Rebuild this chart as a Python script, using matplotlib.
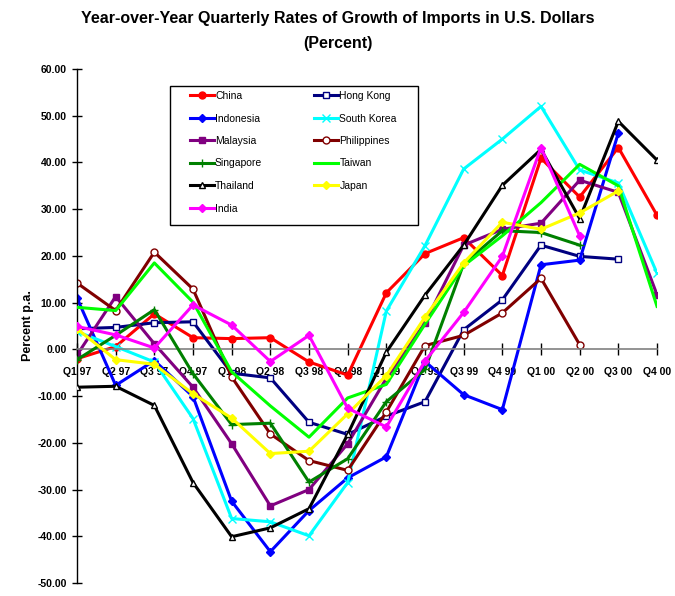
import numpy as np
import matplotlib
matplotlib.use('Agg')
import matplotlib.pyplot as plt
from matplotlib.patches import Rectangle

nan = np.nan
quarters = ['Q1 97', 'Q2 97', 'Q3 97', 'Q4 97', 'Q1 98', 'Q2 98', 'Q3 98', 'Q4 98',
            'Q1 99', 'Q2 99', 'Q3 99', 'Q4 99', 'Q1 00', 'Q2 00', 'Q3 00', 'Q4 00']

china       = [-2.0, 0.6, 7.6, 2.5, 2.3, 2.5, -2.7, -5.5, 12.1, 20.5, 23.9, 15.8, 40.9, 32.6, 43.2, 28.7]
hong_kong   = [4.4, 4.7, 5.7, 5.9, -5.1, -6.1, -15.6, -18.2, -14.3, -11.2, 4.2, 10.6, 22.3, 19.9, 19.3, nan]
indonesia   = [11.0, -7.7, -2.4, -10.1, -32.5, -43.3, -34.5, -27.5, -23.0, -2.6, -9.7, -12.9, 18.1, 19.1, 46.3, nan]
south_korea = [3.8, 0.6, -2.7, -14.8, -36.2, -36.9, -39.9, -28.5, 8.2, 22.2, 38.6, 45.0, 52.0, 38.4, 35.6, 16.3]
malaysia    = [-1.2, 11.3, 1.2, -8.1, -20.2, -33.5, -30.0, -20.2, -6.2, 5.7, 22.3, 25.7, 27.0, 36.2, 33.6, 11.7]
philippines = [14.2, 8.3, 20.8, 12.9, -5.9, -18.1, -23.8, -25.9, -13.4, 0.8, 3.0, 7.8, 15.2, 1.0, nan, nan]
singapore   = [-2.2, 3.0, 8.5, -5.2, -16.1, -15.8, -28.4, -23.4, -11.2, -4.3, 18.3, 25.4, 25.0, 22.3, nan, nan]
taiwan      = [9.0, 8.3, 18.5, 10.1, -4.8, -12.1, -18.8, -10.4, -7.5, 5.4, 17.9, 24.3, 31.4, 39.6, 35.0, 9.2]
thailand    = [-8.1, -7.9, -12.0, -28.5, -40.1, -38.2, -34.1, -18.2, -0.6, 11.6, 22.3, 35.1, 42.8, 28.0, 48.8, 40.5]
japan       = [4.4, -2.2, -3.2, -9.5, -14.7, -22.3, -21.8, -13.8, -5.6, 6.9, 18.5, 27.2, 25.7, 29.2, 33.9, nan]
india       = [4.9, 3.1, 0.3, 9.5, 5.2, -2.6, 3.0, -12.6, -16.6, -2.5, 7.9, 19.9, 43.2, 24.3, nan, nan]

# name, values, color, marker, marker face, draw order
# (listed in legend column order; matplotlib fills legend columns first)
series = [
    ('China',       china,       '#FF0000', 'o', '#FF0000', 0),
    ('Indonesia',   indonesia,   '#0000FF', 'D', '#0000FF', 2),
    ('Malaysia',    malaysia,    '#800080', 's', '#800080', 4),
    ('Singapore',   singapore,   '#008000', '+', '#008000', 6),
    ('Thailand',    thailand,    '#000000', '^', 'white',   8),
    ('India',       india,       '#FF00FF', 'D', '#FF00FF', 10),
    ('Hong Kong',   hong_kong,   '#000080', 's', 'white',   1),
    ('South Korea', south_korea, '#00FFFF', 'x', '#00FFFF', 3),
    ('Philippines', philippines, '#800000', 'o', 'white',   5),
    ('Taiwan',      taiwan,      '#00FF00', None, None,     7),
    ('Japan',       japan,       '#FFFF00', 'D', '#FFFF00', 9),
]

plt.rcParams['font.family'] = ['Liberation Sans', 'DejaVu Sans']

W, H = 675, 596
fig = plt.figure(figsize=(W / 100, H / 100), dpi=100)
ax = fig.add_axes([77 / W, 1 - 583 / H, 580 / W, 514 / H])

x = np.arange(len(quarters))
for name, vals, col, mk, fc, order in series:
    ms = 5 if mk in ('o', 's', '^') else (4 if mk == 'D' else 6)
    ax.plot(x, vals, color=col, lw=2.2, marker=mk, ms=ms, mfc=fc, mec=col,
            mew=1.0, label=name, zorder=2 + order * 0.1)

# spine position first: it resets the ticks
for s in ('top', 'right'):
    ax.spines[s].set_visible(False)
ax.spines['bottom'].set_position(('data', 0))
ax.spines['bottom'].set_color('#808080')
ax.spines['bottom'].set_linewidth(1.2)
ax.spines['left'].set_linewidth(1.0)

ax.set_xlim(0, 15)
ax.set_ylim(-50, 60)
ax.set_yticks(np.arange(-50, 61, 10))
ax.set_yticklabels(['%.2f' % v for v in np.arange(-50, 61, 10)],
                   fontsize=7.5, fontweight='bold')
ax.set_xticks(x)
ax.set_xticklabels(quarters, fontsize=7.5, fontweight='bold')
ax.tick_params(axis='y', direction='inout', length=7, width=1, pad=4)
ax.tick_params(axis='x', direction='inout', length=8, width=1, color='black', pad=9)

ax.set_ylabel('Percent p.a.', fontsize=9, fontweight='bold', labelpad=2)

fig.suptitle('Year-over-Year Quarterly Rates of Growth of Imports in U.S. Dollars\n(Percent)',
             y=0.982, fontsize=11.5, fontweight='bold', linespacing=1.85)

# legend box drawn separately so its padding can match
fig.patches.append(Rectangle((170 / W, 1 - 225 / H), 248 / W, 139 / H,
                             transform=fig.transFigure, fill=False,
                             edgecolor='black', lw=1.0, zorder=5))
leg = ax.legend(ncol=2, loc='upper left', bbox_to_anchor=(190 / W, 1 - 91 / H),
                bbox_transform=fig.transFigure, borderaxespad=0, borderpad=0,
                fontsize=7.5, frameon=False, handlelength=2.3,
                handletextpad=0.1, columnspacing=5.0, labelspacing=1.2)

fig.savefig('out.png', dpi=100)
